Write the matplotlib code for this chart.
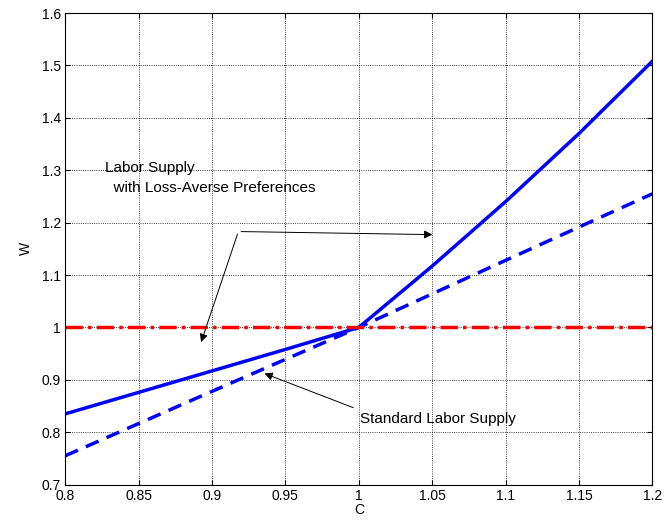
import numpy as np
import matplotlib.pyplot as plt

plt.rcParams['font.family'] = ['Liberation Sans', 'DejaVu Sans']
plt.rcParams['font.size'] = 10

C_LOSS = [0.80, 0.85, 0.90, 0.95, 1.00, 1.05, 1.10, 1.15, 1.20]
W_LOSS = [0.835, 0.876, 0.917, 0.958, 1.000, 1.117, 1.240, 1.370, 1.508]
C_STD = [0.80, 0.90, 1.00, 1.10, 1.20]
W_STD = [0.755, 0.878, 1.000, 1.128, 1.255]
W_REF = 1.0

fig = plt.figure(figsize=(6.65, 5.2), dpi=100)
ax = fig.add_axes([0.098, 0.068, 0.883, 0.907])
ax.plot(C_LOSS, W_LOSS, color='#0000ff', lw=2.5)
ax.plot(C_STD, W_STD, color='#0000ff', lw=2.5, ls=(0, (4, 2.5)))
ax.axhline(W_REF, color='#ff0000', lw=2.5, ls=(0, (5, 1.5, 1, 1.5)))
ax.set_xlim(0.8, 1.2)
ax.set_ylim(0.7, 1.6)
ax.set_xticks(np.arange(0.8, 1.201, 0.05))
ax.set_xticklabels(['0.8', '0.85', '0.9', '0.95', '1', '1.05', '1.1', '1.15', '1.2'])
ax.set_yticks(np.arange(0.7, 1.601, 0.1))
ax.set_yticklabels(['0.7', '0.8', '0.9', '1', '1.1', '1.2', '1.3', '1.4', '1.5', '1.6'])
ax.grid(True, color='k', ls=':', lw=0.6)
ax.tick_params(direction='in', top=True, right=True, pad=3)
ax.set_xlabel('C', labelpad=0)
ax.set_ylabel('W', labelpad=6)

ax.text(0.827, 1.285, 'Labor Supply\n  with Loss-Averse Preferences', fontsize=11,
        va='center', linespacing=1.6)
arr = dict(arrowstyle='-|>', color='k', lw=0.7, mutation_scale=12)
ax.annotate('', xy=(1.052, 1.177), xytext=(0.918, 1.183), arrowprops=arr)
ax.annotate('', xy=(0.892, 0.967), xytext=(0.918, 1.183), arrowprops=arr)
ax.text(1.001, 0.826, 'Standard Labor Supply', fontsize=11, va='center')
ax.annotate('', xy=(0.934, 0.914), xytext=(0.998, 0.845), arrowprops=arr)

fig.savefig('out.png', dpi=100)
